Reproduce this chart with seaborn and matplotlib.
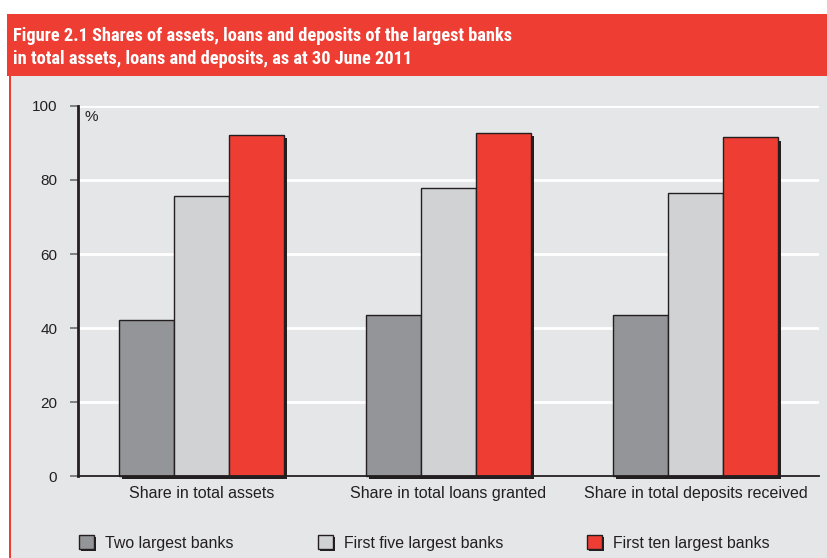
import matplotlib
matplotlib.use("Agg")
import matplotlib.pyplot as plt
import matplotlib.patheffects as pe
from matplotlib.patches import Rectangle, Patch
import seaborn as sns
import pandas as pd

categories = ["Share in total assets", "Share in total loans granted", "Share in total deposits received"]
series = ["Two largest banks", "First five largest banks", "First ten largest banks"]
two_largest = [42.2, 43.5, 43.5]
five_largest = [75.7, 77.8, 76.4]
ten_largest = [92.2, 92.8, 91.5]
yticks = [0, 20, 40, 60, 80, 100]

colors = ["#949598", "#D1D2D4", "#EE3D33"]
bg = "#E5E6E8"
dark = "#231F20"

rows = []
for s, vals in zip(series, [two_largest, five_largest, ten_largest]):
    for c, v in zip(categories, vals):
        rows.append({"category": c, "series": s, "value": v})
df = pd.DataFrame(rows)

sns.set_style("white")
plt.rcParams['font.family'] = ['Liberation Sans', 'DejaVu Sans']

W, H = 828, 558
fig = plt.figure(figsize=(W / 100, H / 100), dpi=100, facecolor="white")

fig.patches.append(Rectangle((11 / W, 0), 1 - 11 / W, (H - 76) / H, transform=fig.transFigure,
                             facecolor=bg, edgecolor="none", zorder=-10))
fig.patches.append(Rectangle((9 / W, 0), 2 / W, (H - 76) / H, transform=fig.transFigure,
                             facecolor="#EE3D33", edgecolor="none", zorder=-9))
fig.patches.append(Rectangle((7 / W, (H - 76) / H), 1 - 7 / W, 62 / H, transform=fig.transFigure,
                             facecolor="#EE3D33", edgecolor="none", zorder=-9))

title_family = ["Roboto Condensed", "Liberation Sans", "DejaVu Sans"]
fig.text(13 / W, 1 - 36 / H, "Figure 2.1 Shares of assets, loans and deposits of the largest banks",
         color="white", fontsize=13.2, fontweight="bold", va="center", ha="left", family=title_family)
fig.text(13 / W, 1 - 59 / H, "in total assets, loans and deposits, as at 30 June 2011",
         color="white", fontsize=13.2, fontweight="bold", va="center", ha="left", family=title_family)

ax = fig.add_axes([78 / W, (H - 476) / H, (819 - 78) / W, 370 / H])
ax.set_facecolor(bg)

shadow = [pe.SimplePatchShadow(offset=(2.2, -2.2), shadow_rgbFace=dark, alpha=1.0), pe.Normal()]

sns.barplot(data=df, x="category", y="value", hue="series", order=categories, hue_order=series,
            palette=colors, saturation=1, width=0.67, edgecolor=dark, linewidth=1.0, ax=ax,
            legend=False, zorder=3)
for p in ax.patches:
    p.set_path_effects(shadow)
    p.set_clip_on(False)

ax.set_xlim(-0.5, 2.5)
ax.set_ylim(0, 100)
ax.set_yticks(yticks)
ax.set_yticklabels([str(t) for t in yticks], fontsize=11, color=dark)
ax.yaxis.grid(True, color="white", linewidth=2, zorder=0)
ax.set_axisbelow(True)
ax.set_xlabel("")
ax.set_ylabel("")
ax.set_xticks([0, 1, 2])
ax.set_xticklabels(categories, fontsize=11.5, color=dark)
ax.set_xticks([-0.5, 0.5, 1.5, 2.5], minor=True)
ax.tick_params(axis="x", which="major", length=0, pad=7)
ax.tick_params(axis="x", which="minor", length=5.5, width=1, color="#6d6e71", direction="out")
ax.tick_params(axis="y", length=6, width=1.2, color="#6d6e71", direction="out", pad=9, left=True)
for side in ["top", "right"]:
    ax.spines[side].set_visible(False)
ax.spines["left"].set_linewidth(2)
ax.spines["left"].set_color(dark)
ax.spines["left"].set_zorder(5)
ax.spines["bottom"].set_linewidth(1.3)
ax.spines["bottom"].set_color(dark)
ax.spines["bottom"].set_zorder(5)

ax.text(85 / W, 1 - 117 / H, "%", transform=fig.transFigure, fontsize=11, color=dark,
        va="center", ha="left")

handles = [Patch(facecolor=c, edgecolor=dark, linewidth=1.0, label=s,
                 path_effects=[pe.SimplePatchShadow(offset=(1.5, -1.5), shadow_rgbFace=dark, alpha=1.0), pe.Normal()])
           for c, s in zip(colors, series)]
leg = fig.legend(handles=handles, loc="center left", bbox_to_anchor=(65 / W, 1 - 543 / H), ncol=3,
                 frameon=False, fontsize=11.4, handlelength=0.95, handleheight=0.95,
                 handletextpad=0.7, columnspacing=5.3, labelcolor=dark)

fig.savefig("out.png", dpi=100, facecolor="white")
